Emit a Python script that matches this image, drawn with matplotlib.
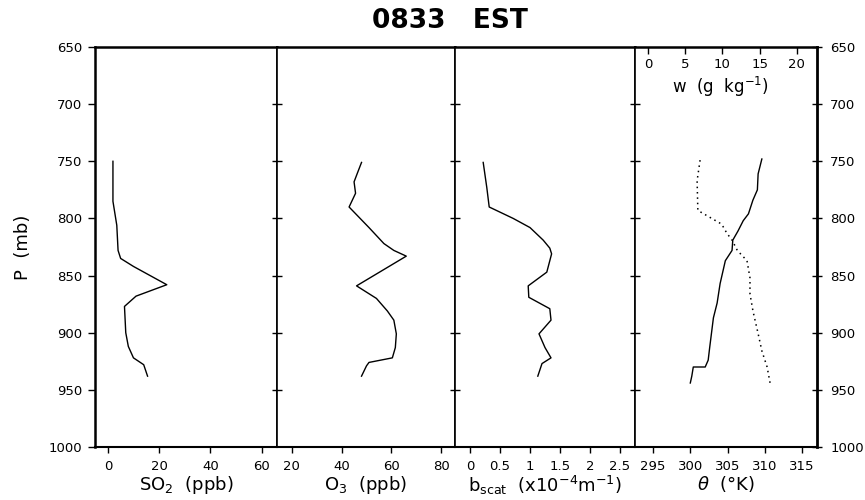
import matplotlib
matplotlib.use("Agg")
import matplotlib.pyplot as plt

plt.rcParams['font.family'] = ['DejaVu Sans']
plt.rcParams['mathtext.fontset'] = 'dejavusans'

# ---- data ----
p_ticks = [650, 700, 750, 800, 850, 900, 950, 1000]

so2_p = [750, 785, 806, 828, 835, 842, 858, 868, 877, 900, 912, 922, 928, 938]
so2 = [2, 2, 3.5, 4, 5, 10, 23, 11, 6.5, 7, 8, 10, 14, 15.5]

o3_p = [751, 760, 768, 778, 790, 808, 822, 828, 833, 859, 870, 881, 889, 901, 913, 922, 926, 929, 938]
o3 = [48, 46.4, 45, 45.6, 43, 51, 57, 61, 66, 46, 54, 58.4, 61, 62, 61.6, 60.4, 51, 50, 48]

bscat_p = [751, 773, 790, 800, 808, 819, 826, 831, 847, 859, 869, 879, 889, 901, 913, 922, 927, 938]
bscat = [0.22, 0.28, 0.32, 0.72, 1.0, 1.22, 1.33, 1.36, 1.28, 0.97, 0.98, 1.33, 1.35, 1.15, 1.25, 1.35, 1.2, 1.13]

theta_p = [748, 761, 775, 784, 796, 802, 811, 819, 828, 837, 857, 874, 887, 913, 924, 930, 930, 938, 944]
theta = [309.6, 309.1, 309.0, 308.4, 307.8, 307.1, 306.4, 305.7, 305.6, 304.7, 304.0, 303.6, 303.1,
         302.6, 302.4, 302.0, 300.4, 300.2, 300.0]

w_p = [749, 767, 793, 799, 805, 813, 819, 828, 837, 852, 866, 881, 901, 916, 930, 944]
w = [7.0, 6.6, 6.7, 8.3, 9.9, 10.6, 11.3, 12.0, 13.3, 13.7, 13.7, 14.1, 14.8, 15.3, 16.0, 16.4]

so2_ticks = [0, 20, 40, 60]
o3_ticks = [20, 40, 60, 80]
bscat_ticks = [0, 0.5, 1, 1.5, 2, 2.5]
bscat_labels = ["0", "0.5", "1", "1.5", "2", "2.5"]
theta_ticks = [295, 300, 305, 310, 315]
w_ticks = [0, 5, 10, 15, 20]

# ---- figure ----
W, H = 865, 500
fig = plt.figure(figsize=(W / 100, H / 100), dpi=100)

edges = [95, 277, 455, 635, 817]
top_px, bot_px = 47, 447
bottom = 1 - bot_px / H
height = (bot_px - top_px) / H

axes = []
for i in range(4):
    ax = fig.add_axes([edges[i] / W, bottom, (edges[i + 1] - edges[i]) / W, height])
    axes.append(ax)

tick_fs = 9.5
lab_fs = 13

specs = [
    (so2, so2_p, (-5, 66), so2_ticks, None, r"SO$_2$  (ppb)"),
    (o3, o3_p, (14, 85.6), o3_ticks, None, r"O$_3$  (ppb)"),
    (bscat, bscat_p, (-0.25, 2.75), bscat_ticks, bscat_labels, r"b$_{\rm scat}$  (x10$^{-4}$m$^{-1}$)"),
    (theta, theta_p, (292.58, 317.0), theta_ticks, None, r"$\theta$  ($\degree$K)"),
]

for i, (ax, (vals, ps, xl, xt, xtl, xlab)) in enumerate(zip(axes, specs)):
    ax.plot(vals, ps, color='black', lw=1.0)
    ax.set_xlim(*xl)
    ax.set_ylim(1000, 650)
    ax.set_xticks(xt)
    if xtl is not None:
        ax.set_xticklabels(xtl)
    ax.tick_params(axis='x', direction='out', length=4, width=1, labelsize=tick_fs, pad=5)
    ax.set_xlabel(xlab, fontsize=lab_fs, labelpad=1)
    ax.set_yticks(p_ticks)
    for s in ax.spines.values():
        s.set_linewidth(1.2)
    ax.spines['top'].set_linewidth(1.8)
    ax.spines['bottom'].set_linewidth(1.5)
    if i == 0:
        ax.spines['left'].set_linewidth(1.8)
        ax.tick_params(axis='y', direction='out', length=5, width=1, labelsize=tick_fs, pad=4)
        ax.set_ylabel("P  (mb)", fontsize=lab_fs, labelpad=12)
    else:
        ax.tick_params(axis='y', direction='inout', length=7, width=1, labelleft=False)
        # no crossing marks at the frame corners
        ticks = ax.yaxis.get_major_ticks()
        ticks[0].tick1line.set_visible(False)
        ticks[-1].tick1line.set_visible(False)
    if i == 3:
        ax.spines['right'].set_linewidth(2.0)
        ax.tick_params(axis='y', right=True, labelright=True)
        for t in ax.yaxis.get_major_ticks():
            t.tick2line.set_marker(matplotlib.lines.TICKRIGHT)
            t.tick2line.set_markersize(5)
        ax.tick_params(axis='y', which='major', labelsize=tick_fs, pad=6)

# secondary axis for mixing ratio w
ax4 = axes[3]
axw = ax4.twiny()
axw.set_xlim(-1.74, 22.7)
axw.set_ylim(1000, 650)
axw.plot(w, w_p, color='black', lw=1.1, linestyle=(0, (1, 2.5)))
axw.set_xticks(w_ticks)
axw.tick_params(axis='x', top=True, labeltop=True, direction='in', length=5, width=1,
                labelsize=tick_fs, pad=-17)
axw.set_xlabel(r"w  (g  kg$^{-1}$)", fontsize=lab_fs - 1)
axw.xaxis.set_label_position('top')
axw.xaxis.set_label_coords(0.467, 0.885)
for s in axw.spines.values():
    s.set_visible(False)

fig.text(0.52, 0.958, "0833   EST", ha='center', va='center', fontsize=19, fontweight='bold')

fig.savefig("out.png", dpi=100)
